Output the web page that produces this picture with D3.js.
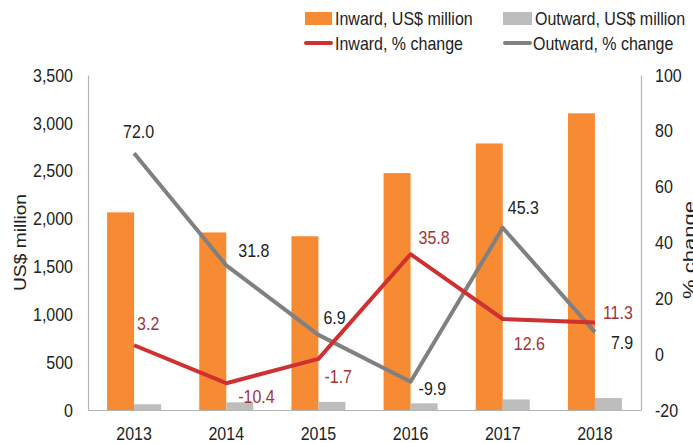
<!DOCTYPE html>
<html>
<head>
<meta charset="utf-8">
<script src="https://cdn.jsdelivr.net/npm/d3@7"></script>
<style>
  html, body { margin: 0; padding: 0; background: #fff; }
  svg { display: block; font-family: "Liberation Sans", Arial, sans-serif; }
</style>
</head>
<body>
<svg id="chart" width="693" height="443"></svg>
<script>
// Data
const years = ["2013", "2014", "2015", "2016", "2017", "2018"];
const inwardUSD = [2065, 1855, 1815, 2475, 2785, 3100];
const outwardUSD = [60, 80, 85, 70, 110, 125];
const inwardPct = [3.2, -10.4, -1.7, 35.8, 12.6, 11.3];
const outwardPct = [72.0, 31.8, 6.9, -9.9, 45.3, 7.9];
const leftTicks = [0, 500, 1000, 1500, 2000, 2500, 3000, 3500];
const rightTicks = [-20, 0, 20, 40, 60, 80, 100];

// Styling
const C = {
  orange: "#f68b33",
  grayBar: "#bdbdbd",
  red: "#cf3030",
  grayLine: "#808080",
  redText: "#a33337",
  text: "#222",
  axis: "#b5b5b5"
};
const STRETCH = 1.2;   // tall, narrow lettering
const FS = 16;

const svg = d3.select("#chart");
const plotL = 88, plotR = 641, plotT = 75, plotB = 410;

const x = d3.scaleBand().domain(years).range([plotL, plotR]);
const yL = d3.scaleLinear().domain([0, 3500]).range([plotB, plotT]);
const yR = d3.scaleLinear().domain([-20, 100]).range([plotB, plotT]);
const cx = d => x(d) + x.bandwidth() / 2;
const barW = 27;

function label(g, tx, ty, str, opts = {}) {
  return g.append("text")
    .attr("transform", `translate(${tx},${ty}) scale(1,${STRETCH})`)
    .attr("dy", "0.35em")
    .attr("text-anchor", opts.anchor || "start")
    .attr("font-size", opts.size || FS)
    .attr("fill", opts.fill || C.text)
    .text(str);
}

// Bars
svg.append("g").selectAll("rect").data(years).join("rect")
  .attr("x", d => cx(d) - barW)
  .attr("width", barW)
  .attr("y", (d, i) => yL(inwardUSD[i]))
  .attr("height", (d, i) => plotB - yL(inwardUSD[i]))
  .attr("fill", C.orange);

svg.append("g").selectAll("rect").data(years).join("rect")
  .attr("x", d => cx(d))
  .attr("width", barW)
  .attr("y", (d, i) => yL(outwardUSD[i]))
  .attr("height", (d, i) => plotB - yL(outwardUSD[i]))
  .attr("fill", C.grayBar);

// Axes
const axisL = svg.append("g").attr("transform", `translate(${plotL},0)`)
  .call(d3.axisLeft(yL).tickValues(leftTicks).tickFormat(d3.format(",")).tickSize(0).tickPadding(15));
const axisR = svg.append("g").attr("transform", `translate(${plotR},0)`)
  .call(d3.axisRight(yR).tickValues(rightTicks).tickFormat(d => String(d)).tickSize(0).tickPadding(14));
const axisB = svg.append("g").attr("transform", `translate(0,${plotB})`)
  .call(d3.axisBottom(x).tickSize(0).tickPadding(16));

[axisL, axisR, axisB].forEach(a => {
  a.select(".domain").attr("stroke", C.axis).attr("stroke-width", 1.2);
  a.selectAll("text")
    .attr("font-size", FS)
    .attr("font-family", "Liberation Sans, Arial, sans-serif")
    .attr("fill", C.text)
    .attr("transform", `scale(1,${STRETCH})`);
});
axisB.selectAll("text").attr("dy", "0.55em");

// Axis titles
svg.append("text")
  .attr("transform", `translate(26,${(plotT + plotB) / 2}) rotate(-90) scale(${STRETCH},1)`)
  .attr("text-anchor", "middle")
  .attr("font-size", FS).attr("fill", C.text)
  .text("US$ million");
svg.append("text")
  .attr("transform", `translate(695,250) rotate(-90) scale(1.3,1)`)
  .attr("text-anchor", "middle")
  .attr("font-size", 17).attr("fill", C.text)
  .text("% change");

// Lines
const line = d3.line().x(d => cx(d[0])).y(d => yR(d[1]));
svg.append("path")
  .datum(years.map((y, i) => [y, outwardPct[i]]))
  .attr("d", line).attr("fill", "none")
  .attr("stroke", C.grayLine).attr("stroke-width", 4).attr("stroke-linejoin", "round");
svg.append("path")
  .datum(years.map((y, i) => [y, inwardPct[i]]))
  .attr("d", line).attr("fill", "none")
  .attr("stroke", C.red).attr("stroke-width", 4).attr("stroke-linejoin", "round");

// Value labels (offsets from each point)
const inOff = [[3, -22], [12, 13], [6, 17], [8, -17], [11, 24], [8, -10]];
const outOff = [[-11, -22], [12, -15], [5, -18], [8, 6], [5, -20], [16, 10]];
const lg = svg.append("g");
years.forEach((y, i) => {
  label(lg, cx(y) + inOff[i][0], yR(inwardPct[i]) + inOff[i][1], inwardPct[i].toFixed(1), { fill: C.redText });
  label(lg, cx(y) + outOff[i][0], yR(outwardPct[i]) + outOff[i][1], outwardPct[i].toFixed(1));
});

// Legend
const leg = svg.append("g");
leg.append("rect").attr("x", 305).attr("y", 12).attr("width", 27).attr("height", 13).attr("fill", C.orange);
label(leg, 335, 18, "Inward, US$ million");
leg.append("rect").attr("x", 503).attr("y", 12).attr("width", 29).attr("height", 13).attr("fill", C.grayBar);
label(leg, 535, 18, "Outward, US$ million");
leg.append("line").attr("x1", 306).attr("x2", 331).attr("y1", 43).attr("y2", 43)
  .attr("stroke", C.red).attr("stroke-width", 4).attr("stroke-linecap", "round");
label(leg, 335, 43, "Inward, % change");
leg.append("line").attr("x1", 505).attr("x2", 530).attr("y1", 43).attr("y2", 43)
  .attr("stroke", C.grayLine).attr("stroke-width", 4).attr("stroke-linecap", "round");
label(leg, 533, 43, "Outward, % change");
</script>
</body>
</html>
